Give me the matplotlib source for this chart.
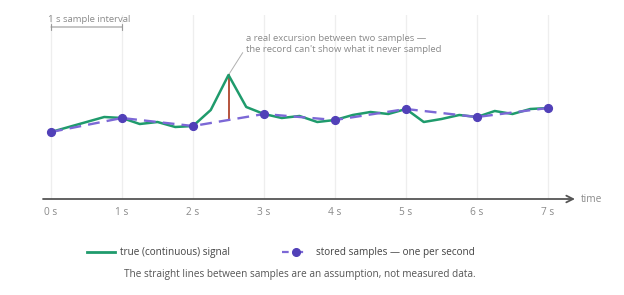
import matplotlib.pyplot as plt
import numpy as np

plt.rcParams['font.family'] = ['Open Sans', 'DejaVu Sans']

# true signal, read every 0.25 s
t_true = np.arange(0, 7.01, 0.25)
y_true = [6.7, 7.2, 7.7, 8.2, 8.1, 7.5, 7.7, 7.2, 7.3, 8.9, 12.4, 9.2, 8.5, 8.1, 8.3,
          7.7, 7.9, 8.4, 8.7, 8.5, 9.0, 7.7, 8.0, 8.4, 8.2, 8.8, 8.5, 9.0, 9.1]

# stored samples, one per second
t_samp = np.arange(0, 8)
y_samp = [6.7, 8.1, 7.3, 8.5, 7.9, 9.0, 8.2, 9.1]
tick_labels = [f'{s} s' for s in t_samp]

spike_t = 2.5

green = '#1f9b6c'
purple = '#5140b8'
purple_line = '#7c68d6'
grey = '#8a8a8a'

W, H = 624, 295
fig = plt.figure(figsize=(W / 100, H / 100), dpi=100)
# axes box in pixels: x 43..575, y 15..199
ax = fig.add_axes([43 / W, (H - 199) / H, (575 - 43) / W, (199 - 15) / H])
ax.set_xlim((43 - 51) / 71, (575 - 51) / 71)
ax.set_ylim(0, (199 - 15) / 10)

for s in ['top', 'right', 'left', 'bottom']:
    ax.spines[s].set_visible(False)
ax.set_yticks([])
ax.set_xticks(t_samp)
ax.set_xticklabels(tick_labels, color=grey, fontsize=7.3)
ax.tick_params(axis='x', length=0, pad=6)
ax.grid(axis='x', color='#eeeeee', linewidth=0.9)
ax.set_axisbelow(True)

# axis with arrow
ax.annotate('', xy=(1, 0), xytext=(0, 0), xycoords='axes fraction',
            arrowprops=dict(arrowstyle='->', color='#555555', lw=1.3,
                            mutation_scale=12, shrinkA=0, shrinkB=0),
            annotation_clip=False)
ax.text(1.012, 0, 'time', transform=ax.transAxes, ha='left', va='center',
        color=grey, fontsize=7.3)

ax.plot(t_true, y_true, color=green, lw=1.8, zorder=3)
ax.plot(t_samp, y_samp, color=purple_line, lw=1.7, ls=(0, (5, 3)), zorder=4)
ax.plot(t_samp, y_samp, 'o', color=purple, ms=5.6, zorder=5)

# excursion marker
i = list(t_true).index(spike_t)
y_interp = np.interp(spike_t, t_samp, y_samp)
ax.plot([spike_t, spike_t], [y_interp, y_true[i]], color='#b5533c', lw=1.4, zorder=2)
ax.annotate('a real excursion between two samples —\nthe record can\'t show what it never sampled',
            xy=(spike_t, y_true[i]), xytext=(2.75, 15.5), textcoords='data',
            ha='left', va='center', fontsize=6.8, color=grey, linespacing=1.35,
            arrowprops=dict(arrowstyle='-', color='#b0b0b0', lw=0.7, shrinkA=1, shrinkB=1,
                            relpos=(0, 0.35)))

# sample interval bracket
ax.annotate('', xy=(1, 17.2), xytext=(0, 17.2),
            arrowprops=dict(arrowstyle='|-|, widthA=0.2, widthB=0.2', color='#999999', lw=0.8,
                            shrinkA=0, shrinkB=0))
ax.text(-0.04, 18.0, '1 s sample interval', ha='left', va='center', fontsize=6.8, color=grey)

# legend drawn in figure pixels
fig.lines.append(plt.Line2D([87 / W, 115 / W], [(H - 252) / H] * 2, color=green, lw=2,
                            transform=fig.transFigure))
fig.text(120 / W, (H - 252) / H, 'true (continuous) signal', ha='left', va='center',
         fontsize=7.2, color='#444444')
fig.lines.append(plt.Line2D([282 / W, 309 / W], [(H - 252) / H] * 2, color=purple_line, lw=1.6,
                            ls=(0, (3, 3.5)), transform=fig.transFigure))
fig.lines.append(plt.Line2D([295.5 / W], [(H - 252) / H], marker='o', color=purple, ms=5.5,
                            transform=fig.transFigure))
fig.text(316 / W, (H - 252) / H, 'stored samples — one per second', ha='left', va='center',
         fontsize=7.2, color='#444444')

fig.text(300 / W, (H - 275) / H,
         'The straight lines between samples are an assumption, not measured data.',
         ha='center', va='center', fontsize=7.2, color='#555555')

fig.savefig('out.png', dpi=100, facecolor='white')
